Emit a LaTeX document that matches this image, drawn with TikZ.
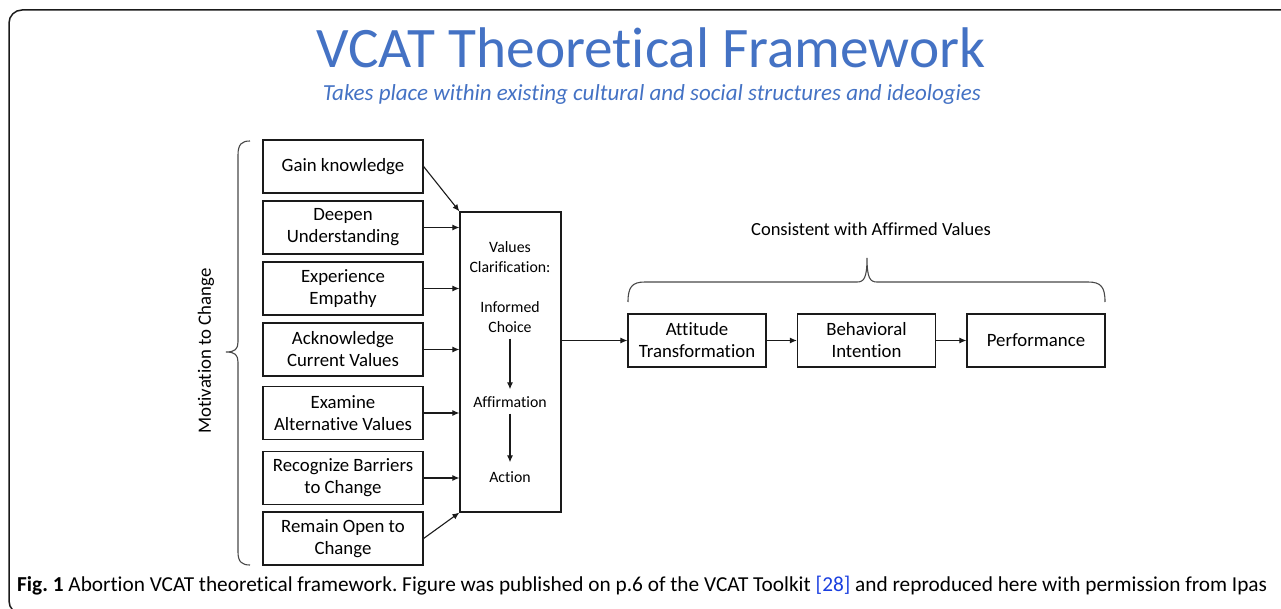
\documentclass[tikz,border=0pt]{standalone}
\usepackage{fontspec}
\setmainfont{Carlito}[Ligatures={NoCommon,NoContextual}]
\usetikzlibrary{arrows.meta}
\definecolor{titleblue}{HTML}{4472C4}
\definecolor{linkblue}{HTML}{1A3FE0}
\definecolor{ink}{HTML}{1A1A1A}
\frenchspacing
\tikzset{
  box/.style={draw=ink, line width=1.2pt, minimum width=160pt, minimum height=53pt, inner sep=0pt, align=center, font=\fontsize{18.8}{22}\selectfont},
  rbox/.style={box, minimum width=138pt},
  ctext/.style={align=center, font=\fontsize{15.8}{20}\selectfont, inner sep=1pt},
  arr/.style={draw=ink, line width=1.1pt, -{Latex[length=7pt,width=6pt]}},
  bracepath/.style={draw=ink!80, line width=1.1pt},
}
\begin{document}
\begin{tikzpicture}[x=1pt,y=-1pt]
\useasboundingbox (0,0) rectangle (1281,609);
\clip (0,0) rectangle (1281,609);
% frame
\draw[line width=1.5pt, draw=ink, rounded corners=13pt] (9,10) rectangle (1320,614);
% title
\node[font=\fontsize{57.3}{60}\selectfont, text=titleblue] (title) at (651,48) {VCAT Theoretical Framework};
\node[font=\fontsize{23}{26}\selectfont\itshape, text=titleblue] (sub) at (652,94) {Takes place within existing cultural and social structures and ideologies};
% left boxes
\node[box] (b1) at (343,166.5) {Gain knowledge};
\node[box] (b2) at (343,227.5) {Deepen\\Understanding};
\node[box] (b3) at (343,288.5) {Experience\\Empathy};
\node[box] (b4) at (343,349.5) {Acknowledge\\Current Values};
\node[box] (b5) at (343,413) {Examine\\Alternative Values};
\node[box] (b6) at (343,478) {Recognize Barriers\\to Change};
\node[box] (b7) at (343,538.5) {Remain Open to\\Change};
% center box
\node[draw=ink, line width=1.2pt, minimum width=101pt, minimum height=300pt, inner sep=0pt] (cb) at (510.5,362) {};
\node[ctext] (vc) at (510,257) {Values\\Clarification:};
\node[ctext] (inf) at (510,317) {Informed\\Choice};
\node[ctext] (aff) at (510,402) {Affirmation};
\node[ctext] (act) at (510,477) {Action};
\draw[arr, shorten <=5pt, shorten >=6pt] (inf) -- (aff);
\draw[arr, shorten <=5pt, shorten >=8pt] (aff) -- (act);
% arrows into center
\draw[arr] (b1.east) -- (cb.north west);
\foreach \b in {b2,b3,b4,b5,b6} \draw[arr] (\b.east) -- (cb.west |- \b.east);
\draw[arr] (b7.east) -- (cb.south west);
% right boxes
\node[rbox] (at) at (697,340.5) {Attitude\\Transformation};
\node[rbox] (bi) at (866.5,340.5) {Behavioral\\Intention};
\node[rbox] (pf) at (1036,340.5) {Performance};
\draw[arr] (cb.east |- at.west) -- (at.west);
\draw[arr] (at) -- (bi);
\draw[arr] (bi) -- (pf);
% top brace
\draw[bracepath] (628,302) .. controls (628,287) and (632,282) .. (645,282) -- (857,282) .. controls (864,282) and (867,278) .. (867,258)
  .. controls (867,278) and (870,282) .. (877,282) -- (1088,282) .. controls (1101,282) and (1105,287) .. (1105,302);
\node[font=\fontsize{18.5}{22}\selectfont] (cons) at (871,229) {Consistent with Affirmed Values};
% left brace
\draw[bracepath] (250,141) .. controls (242,141) and (238,144) .. (238,155) -- (238,342) .. controls (238,349) and (235,352) .. (226,352)
  .. controls (235,352) and (238,355) .. (238,362) -- (238,552) .. controls (238,562) and (242,565) .. (250,565);
\node[font=\fontsize{18.8}{22}\selectfont, rotate=90] (mot) at (206,351) {Motivation to Change};
% caption
\node[anchor=west, font=\fontsize{21.3}{24}\selectfont, inner sep=0pt] (cap) at (17,586) {\textbf{Fig. 1} Abortion VCAT theoretical framework. Figure was published on p.6 of the VCAT Toolkit {\color{linkblue}[28]} and reproduced here with permission from Ipas};
\end{tikzpicture}
\end{document}
